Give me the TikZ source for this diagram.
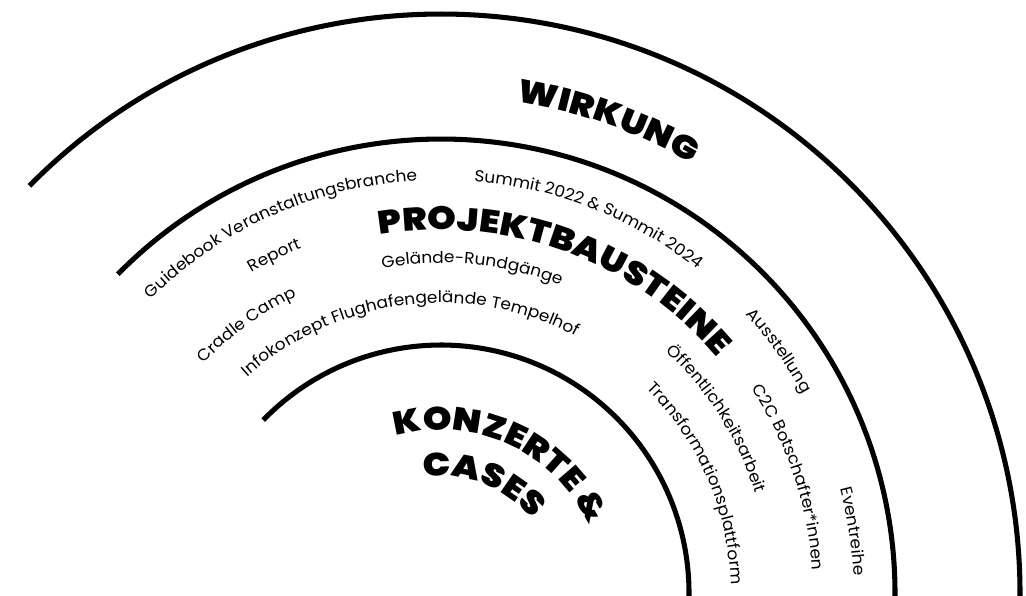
\documentclass[tikz,border=0pt]{standalone}
\usepackage{fontspec}
\setmainfont{Poppins}[FakeStretch=1.05]
\IfFontExistsTF{Poppins Black}
  {\newfontfamily\headfont{Poppins Black}[FakeStretch=1.13]}
  {\newcommand\headfont{\bfseries}}
\usetikzlibrary{decorations.text}
\tikzset{
    % concentric ring outline
    ring/.style={draw=black, line width=3.6pt},
    % text bent along a ring
    ringtext/.style={decorate, decoration={text along path, text align=center, text={#1}}},
}
\newcommand\lblfont{\fontsize{11.5}{13}\selectfont}
\newcommand\hdfont{\headfont\fontsize{23}{26}\selectfont}
% baseline radius, middle angle, text
\newcommand\ringlabel[3]{%
  \pgfmathsetmacro\ra{#2+60}\pgfmathsetmacro\rb{#2-60}%
  \path[ringtext={#3}] (\ra:#1) arc[start angle=\ra, end angle=\rb, radius=#1];}

\begin{document}
\begin{tikzpicture}[x=0.025cm,y=0.025cm]
  \useasboundingbox (-441,-2) rectangle (585,593);
  \clip (-441,-2) rectangle (585,593);
  \coordinate (c) at (0,0);

  % the three rings
  \draw[ring] (c) ++(135.3:579) arc[start angle=135.3, end angle=-10, radius=579];
  \draw[ring] (c) ++(135.4:454) arc[start angle=135.4, end angle=-10, radius=454];
  \draw[ring] (c) ++(135.8:248) arc[start angle=135.8, end angle=-10, radius=248];

  % headings
  \ringlabel{497}{70.5}{|\hdfont|WIRKUNG}
  \ringlabel{363}{70.1}{|\hdfont|PROJEKTBAUSTEINE}
  \ringlabel{163}{65.2}{|\hdfont|KONZERTE {\&}}
  \ringlabel{117}{68.9}{|\hdfont|CASES}

  % project parts
  \ringlabel{413}{114.0}{|\lblfont|Guidebook Veranstaltungsbranche}
  \ringlabel{413}{68.5}{|\lblfont|Summit 2022 {\&} Summit 2024}
  \ringlabel{413}{35.6}{|\lblfont|Ausstellung}
  \ringlabel{413}{8.5}{|\lblfont|Eventreihe}
  \ringlabel{372}{116.3}{|\lblfont|Report}
  \ringlabel{372}{18.4}{|\lblfont|C2C Botschafter*innen}
  \ringlabel{330}{125.9}{|\lblfont|Cradle Camp}
  \ringlabel{330}{84.5}{|\lblfont|Gelände-Rundgänge}
  \ringlabel{330}{32.3}{|\lblfont|Öffentlichkeitsarbeit}
  \ringlabel{290}{97.1}{|\lblfont|Infokonzept Flughafengelände Tempelhof}
  \ringlabel{290}{23.3}{|\lblfont|Transformationsplattform}
\end{tikzpicture}
\end{document}
